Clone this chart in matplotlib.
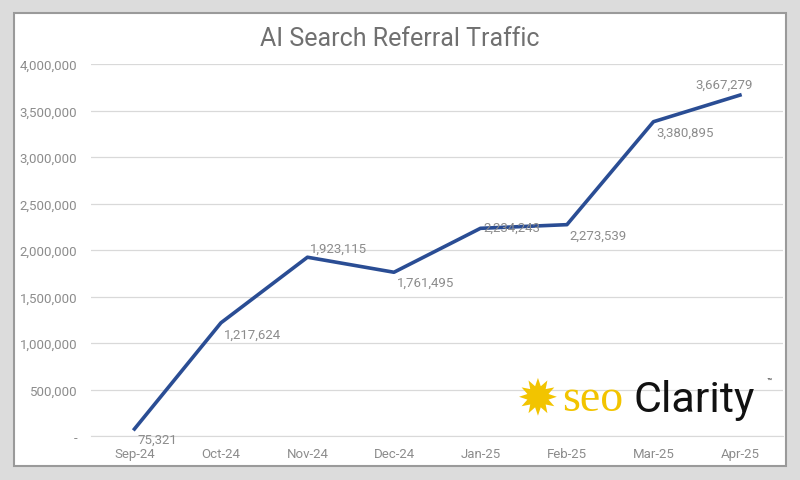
import matplotlib.pyplot as plt
from matplotlib.patches import Rectangle
from matplotlib.ticker import FuncFormatter

plt.rcParams['font.family'] = ['Roboto', 'DejaVu Sans']

months = ['Sep-24', 'Oct-24', 'Nov-24', 'Dec-24', 'Jan-25', 'Feb-25', 'Mar-25', 'Apr-25']
traffic = [75321, 1217624, 1923115, 1761495, 2234243, 2273539, 3380895, 3667279]
# label offsets in points (dx, dy)
offsets = [(2, -12), (2, -13), (2, 2), (2, -12), (2, -4), (2, -12), (2, -12), (-32, 3)]

fig = plt.figure(figsize=(8, 4.81), dpi=100)
fig.patch.set_facecolor('#dcdcdc')
fig.add_artist(Rectangle((14 / 800, 14 / 481), 772 / 800, 453 / 481, transform=fig.transFigure,
                         facecolor='white', edgecolor='#9a9a9a', linewidth=1.5, zorder=0))

ax = fig.add_axes([0.114, 0.0915, 0.865, 0.773])
ax.set_facecolor('none')
x = range(len(months))
ax.plot(x, traffic, color='#2a4d94', linewidth=2.6, zorder=3)
for i, v in enumerate(traffic):
    ax.annotate(f'{v:,}', (i, v), xytext=offsets[i], textcoords='offset points',
                color='#8c8c8c', fontsize=9.5, va='bottom', ha='left')

ax.set_xlim(-0.5, 7.5)
ax.set_ylim(0, 4000000)
ax.set_yticks(range(0, 4000001, 500000))
ax.yaxis.set_major_formatter(FuncFormatter(lambda v, p: '-' if v == 0 else f'{int(v):,}'))
ax.set_xticks(list(x))
ax.set_xticklabels(months)
ax.grid(axis='y', color='#d9d9d9', linewidth=0.9)
ax.set_axisbelow(True)
for s in ['top', 'right', 'left']:
    ax.spines[s].set_visible(False)
ax.spines['bottom'].set_color('#d9d9d9')
ax.tick_params(axis='both', colors='#d9d9d9', labelcolor='#8c8c8c', labelsize=9.5, length=0)
ax.tick_params(axis='x', pad=8)
ax.tick_params(axis='y', pad=10)

fig.text(0.5, 0.905, 'AI Search Referral Traffic', ha='center', fontsize=18, color='#707070')

# logo
fig.text(0.672, 0.168, '\u2739', fontsize=36, color='#f2c400', ha='center', va='center',
         family=['DejaVu Sans'])
fig.text(0.703, 0.168, 'seo', fontsize=33, color='#f2c400', ha='left', va='center',
         family=['Liberation Serif'])
fig.text(0.792, 0.168, 'Clarity', fontsize=31, color='#111111', ha='left', va='center')
fig.text(0.958, 0.205, '\u2122', fontsize=6, color='#111111', ha='left', va='center')

fig.savefig('out.png', dpi=100, facecolor=fig.get_facecolor())
